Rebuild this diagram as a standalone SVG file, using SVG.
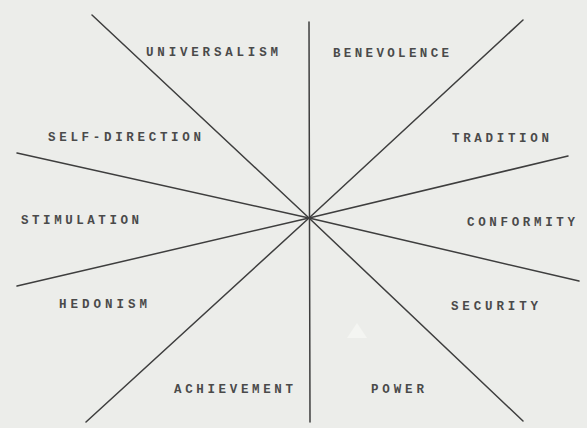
<svg xmlns="http://www.w3.org/2000/svg" width="587" height="428" viewBox="0 0 587 428">
<style>
.bg{fill:#ecedea}
.ln{stroke:#3e3e3e;stroke-width:1.5;fill:none;stroke-linecap:round}
.lb{font-family:"Liberation Mono","DejaVu Sans Mono",monospace;font-size:12.5px;fill:#4a4a4a;font-weight:bold}
</style>
<rect class="bg" x="0" y="0" width="587" height="428"/>
<polygon points="347,338 357,323 367,338" fill="#f4f5f2"/>
<g id="connectors">
<line class="ln" x1="309" y1="218" x2="92" y2="15"/>
<line class="ln" x1="309" y1="218" x2="17" y2="153"/>
<line class="ln" x1="309" y1="218" x2="17" y2="286"/>
<line class="ln" x1="309" y1="218" x2="86" y2="422"/>
<line class="ln" x1="309" y1="22" x2="310" y2="422"/>
<line class="ln" x1="309" y1="218" x2="523" y2="20"/>
<line class="ln" x1="309" y1="218" x2="568" y2="156"/>
<line class="ln" x1="309" y1="218" x2="579" y2="281"/>
<line class="ln" x1="309" y1="218" x2="523" y2="421"/>
</g>
<g id="universalism"><text class="lb" x="146" y="56" textLength="132" lengthAdjust="spacing">UNIVERSALISM</text></g>
<g id="benevolence"><text class="lb" x="333" y="57" textLength="116" lengthAdjust="spacing">BENEVOLENCE</text></g>
<g id="self-direction"><text class="lb" x="48" y="141" textLength="153" lengthAdjust="spacing">SELF-DIRECTION</text></g>
<g id="tradition"><text class="lb" x="452" y="142" textLength="97" lengthAdjust="spacing">TRADITION</text></g>
<g id="stimulation"><text class="lb" x="21" y="224" textLength="118" lengthAdjust="spacing">STIMULATION</text></g>
<g id="conformity"><text class="lb" x="467" y="226" textLength="108" lengthAdjust="spacing">CONFORMITY</text></g>
<g id="hedonism"><text class="lb" x="59" y="308" textLength="88" lengthAdjust="spacing">HEDONISM</text></g>
<g id="security"><text class="lb" x="451" y="310" textLength="87" lengthAdjust="spacing">SECURITY</text></g>
<g id="achievement"><text class="lb" x="174" y="393" textLength="119" lengthAdjust="spacing">ACHIEVEMENT</text></g>
<g id="power"><text class="lb" x="371" y="393" textLength="53" lengthAdjust="spacing">POWER</text></g>
</svg>
